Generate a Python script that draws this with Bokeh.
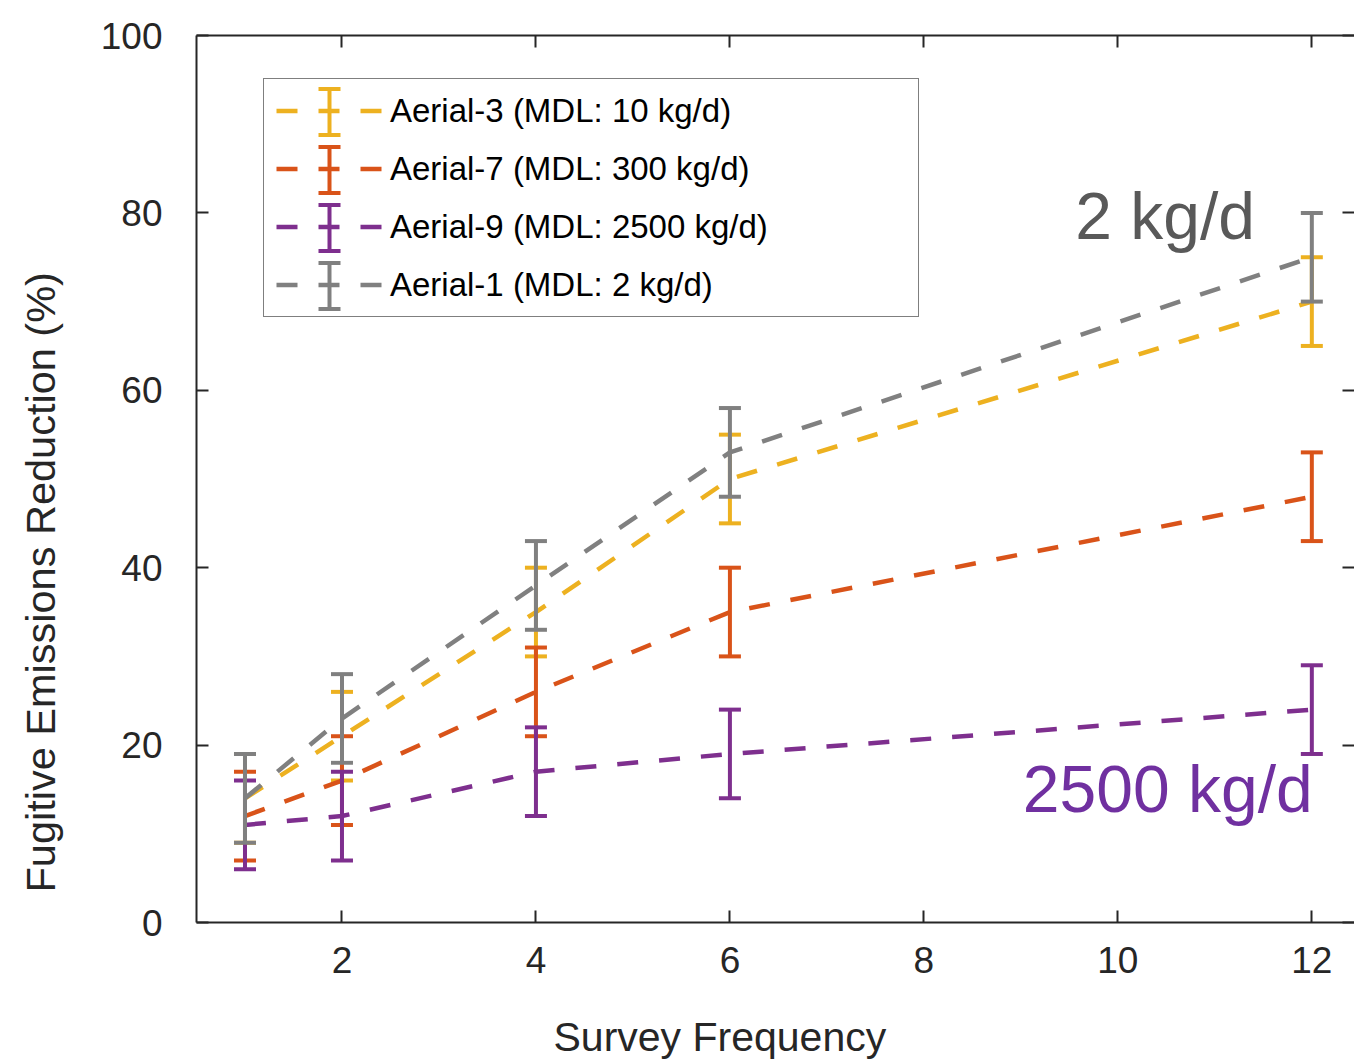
from bokeh.plotting import figure
from bokeh.models import (Range1d, LinearAxis, FixedTicker, Whisker, TeeHead,
                          ColumnDataSource, Legend, LegendItem, Label, Title)
from bokeh.embed import file_html
from bokeh.resources import INLINE

# ---------------- data ----------------
freq = [1, 2, 4, 6, 12]
aerial3 = [14, 21, 35, 50, 70]
aerial7 = [12, 16, 26, 35, 48]
aerial9 = [11, 12, 17, 19, 24]
aerial1 = [14, 23, 38, 53, 75]
err3 = [5, 5, 5, 5, 5]
err7 = [5, 5, 5, 5, 5]
err9 = [5, 5, 5, 5, 5]
err1 = [5, 5, 5, 5, 5]
labels = ["Aerial-3 (MDL: 10 kg/d)", "Aerial-7 (MDL: 300 kg/d)",
          "Aerial-9 (MDL: 2500 kg/d)", "Aerial-1 (MDL: 2 kg/d)"]
colors = ["#EDB120", "#D95319", "#7E2F8E", "#808080"]
x_ticks = [2, 4, 6, 8, 10, 12]
y_ticks = [0, 20, 40, 60, 80, 100]
x_title = "Survey Frequency"
y_title = "Fugitive Emissions Reduction (%)"
annot_texts = ["2 kg/d", "2500 kg/d"]
annot_colors = ["#595959", "#7030A0"]
annot_x = [9.56, 9.02]
annot_y = [79.7, 15.1]

FONT = "Liberation Sans"
AX = "#262626"

# frame geometry (pixels)
W, H = 1354, 1061
FL, FT, FB = 196, 35, 139
FR = 0
X0, X1 = 0.5, 12.44
Y0, Y1 = 0, 100
fw = W - FL - FR
fh = H - FT - FB
ppx = (X1 - X0) / fw
ppy = (Y1 - Y0) / fh

p = figure(width=W, height=H, x_range=Range1d(X0, X1), y_range=Range1d(Y0, Y1),
           output_backend="svg", toolbar_location=None,
           min_border_left=FL, min_border_right=FR, min_border_top=FT, min_border_bottom=FB,
           outline_line_color=None, background_fill_color="white", border_fill_color="white")
p.grid.visible = False


def style_axis(ax):
    ax.major_tick_in = 12
    ax.major_tick_out = 0
    ax.minor_tick_in = 0
    ax.minor_tick_out = 0
    ax.axis_line_color = AX
    ax.axis_line_width = 2
    ax.major_tick_line_color = AX
    ax.major_tick_line_width = 2
    ax.major_label_text_font = FONT
    ax.major_label_text_font_size = "37px"
    ax.major_label_text_color = AX


xa = p.xaxis[0]
ya = p.yaxis[0]
style_axis(xa)
style_axis(ya)
xa.ticker = FixedTicker(ticks=x_ticks)
ya.ticker = FixedTicker(ticks=y_ticks)
xa.major_label_standoff = 24
ya.major_label_standoff = 34

top = LinearAxis(ticker=FixedTicker(ticks=x_ticks),
                 major_label_overrides={t: "" for t in x_ticks})
style_axis(top)
top.major_label_text_font_size = "1px"
top.major_label_standoff = 0
p.add_layout(top, "above")

right = LinearAxis(ticker=FixedTicker(ticks=y_ticks),
                   major_label_overrides={t: "" for t in y_ticks})
style_axis(right)
right.major_label_text_font_size = "1px"
right.major_label_standoff = 0
right.axis_line_color = None
p.add_layout(right, "right")

# axis titles as side titles (placed as in the reference); blank spacers push them outward
p.add_layout(Title(text="\u00a0", text_font=FONT, text_font_size="32px", standoff=0,
                   text_color="white"), "below")
p.add_layout(Title(text=x_title, align="left", offset=357, vertical_align="top", standoff=0,
                   text_font=FONT, text_font_size="41px", text_font_style="normal",
                   text_color=AX), "below")
p.add_layout(Title(text="\u00a0", text_font=FONT, text_font_size="27px", standoff=0,
                   text_color="white"), "left")
p.add_layout(Title(text=y_title, align="left", offset=30, vertical_align="top", standoff=0,
                   text_font=FONT, text_font_size="41.5px", text_font_style="normal",
                   text_color=AX), "left")

# ---------------- series ----------------
series = [(aerial3, err3), (aerial7, err7), (aerial9, err9), (aerial1, err1)]
items = []
for (vals, errs), col, lab in zip(series, colors, labels):
    src = ColumnDataSource(dict(x=freq, y=vals,
                                lower=[v - e for v, e in zip(vals, errs)],
                                upper=[v + e for v, e in zip(vals, errs)]))
    ln = p.line("x", "y", source=src, line_color=col, line_width=4.5, line_dash="21 21")
    wh = Whisker(source=src, base="x", lower="lower", upper="upper", dimension="height",
                 line_color=col, line_width=4, level="glyph",
                 lower_head=TeeHead(size=22, line_color=col, line_width=4),
                 upper_head=TeeHead(size=22, line_color=col, line_width=4))
    p.renderers = p.renderers + [wh]
    items.append(LegendItem(label=lab, renderers=[ln]))

# ---------------- legend ----------------
leg_x, leg_y = 67, 605
pad, gw, gh, sp = 12, 108, 39, 19
legend = Legend(items=items, location=(leg_x, leg_y), orientation="vertical",
                glyph_width=gw, glyph_height=gh, label_standoff=6, padding=pad,
                spacing=sp, label_width=516, margin=0,
                label_text_font=FONT, label_text_font_size="33px", label_text_color="black",
                border_line_color="black", border_line_width=1.5,
                background_fill_alpha=0.0)
p.add_layout(legend)

leg_h = 2 * pad + len(items) * gh + (len(items) - 1) * sp
centers = [leg_y + leg_h - pad - gh / 2 - i * (gh + sp) for i in range(len(items))]
bx = X0 + (leg_x + pad + gw / 2) * ppx
for c, col in zip(centers, colors):
    lsrc = ColumnDataSource(dict(x=[bx], lo=[Y0 + (c - 23) * ppy], hi=[Y0 + (c + 23) * ppy]))
    lw = Whisker(source=lsrc, base="x", lower="lo", upper="hi", dimension="height",
                 line_color=col, line_width=4, level="glyph",
                 lower_head=TeeHead(size=22, line_color=col, line_width=4),
                 upper_head=TeeHead(size=22, line_color=col, line_width=4))
    p.renderers = p.renderers + [lw]

# ---------------- annotations ----------------
for t, col, ax_, ay_ in zip(annot_texts, annot_colors, annot_x, annot_y):
    p.add_layout(Label(x=ax_, y=ay_, text=t, text_font=FONT, text_font_size="66px",
                       text_color=col, text_baseline="alphabetic", text_align="left"))

open("out.html", "w").write(file_html(p, INLINE))
